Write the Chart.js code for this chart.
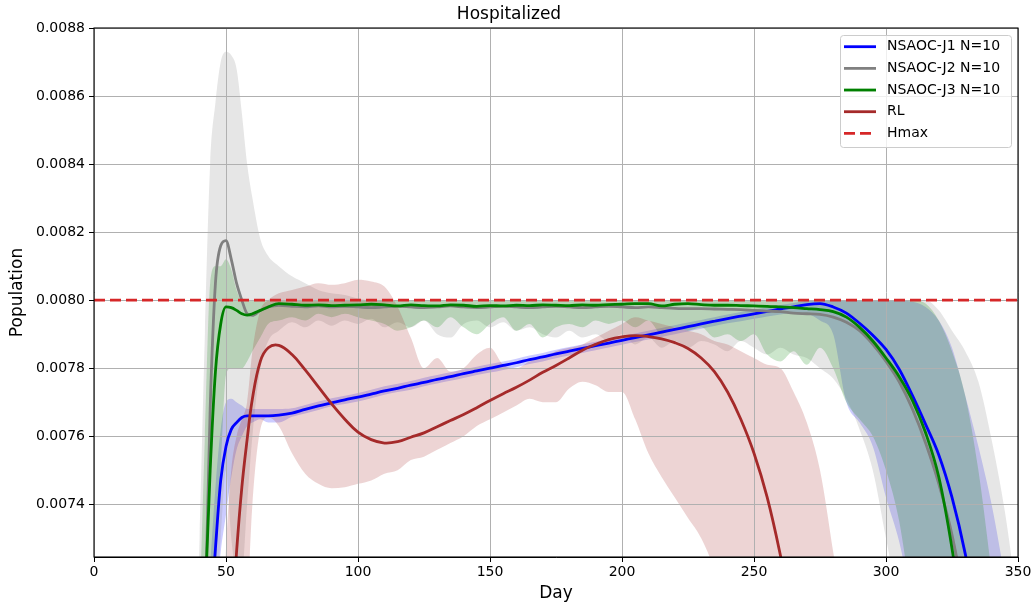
<!DOCTYPE html>
<html><head><meta charset="utf-8">
<script src="https://cdn.jsdelivr.net/npm/chart.js@4.4.1/dist/chart.umd.min.js"></script>
<style>html,body{margin:0;padding:0;background:#fff;}canvas{display:block;}</style>
</head><body>
<canvas id="c" width="1036" height="607"></canvas>
<script>
// ---- data ----
const days = [30,38,40,42,44,46,48,50,52,54,56,58,60,63,66,70,
  75,80,85,90,95,100,105,110,115,120,125,130,135,140,145,150,
  155,160,165,170,175,180,185,190,195,200,205,210,215,220,225,230,
  235,240,245,250,255,260,265,270,275,280,285,290,295,300,305,310,
  315,320,325,330,335,340,345,350];

const j1 = [0.0060,0.0064,0.0066,0.0068,0.00705,0.00727,0.00747,0.00757,0.00762,0.00764,0.007655,0.00766,0.00766,0.00766,0.00766,0.007662,
  0.007668,0.007679,0.007689,0.007698,0.007707,0.007715,0.007724,0.007733,0.007741,0.00775,0.007758,0.007767,0.007775,0.007784,0.007792,0.0078,
  0.007808,0.007816,0.007825,0.007833,0.007842,0.00785,0.007858,0.007866,0.007874,0.007882,0.00789,0.007898,0.007906,0.007914,0.007922,0.00793,
  0.007938,0.007946,0.007953,0.00796,0.007967,0.007974,0.00798,0.007987,0.00799,0.00798,0.007962,0.007932,0.007897,0.007855,0.007797,0.00772,
  0.007635,0.007545,0.00742,0.007255,0.00704,0.0068,0.0066,0.0064];
const j1Lo = [0.0060,0.0062,0.0064,0.0066,0.0069,0.0071,0.00726,0.00737,0.00748,0.00756,0.0076,0.00763,0.00764,0.00765,0.00764,0.00764,
  0.007657,0.007667,0.007677,0.007688,0.007695,0.007702,0.007712,0.007722,0.00773,0.007737,0.007747,0.007755,0.007763,0.007771,0.00778,0.007787,
  0.007795,0.007803,0.007812,0.00782,0.007829,0.007837,0.007845,0.007853,0.007861,0.007869,0.007877,0.007884,0.007892,0.0079,0.007908,0.007916,
  0.007924,0.007932,0.007938,0.007945,0.007952,0.007958,0.007962,0.00796,0.00794,0.0079,0.0077,0.00764,0.00757,0.00742,0.00729,0.0071,
  0.0069,0.0067,0.0065,0.0063,0.0061,0.006,0.006,0.006];
const j1Hi = [0.0060,0.0064,0.0066,0.0070,0.00722,0.00745,0.00762,0.0077,0.00771,0.0077,0.00769,0.00768,0.00768,0.00768,0.00768,0.00768,
  0.007682,0.007692,0.007702,0.007712,0.007719,0.007727,0.007737,0.007747,0.007754,0.007762,0.007772,0.00778,0.007788,0.007796,0.007804,0.007812,
  0.00782,0.007828,0.007837,0.007845,0.007854,0.007862,0.00787,0.007878,0.007886,0.007894,0.007902,0.00791,0.007918,0.007926,0.007934,0.007942,
  0.00795,0.007958,0.007965,0.007972,0.007979,0.007986,0.007992,0.007998,0.008,0.008,0.008,0.008,0.008,0.008,0.008,0.007995,
  0.00798,0.00794,0.00786,0.00772,0.00757,0.0074,0.00718,0.0069];

const j2 = [0.0060,0.0064,0.0067,0.00705,0.00768,0.00805,0.00816,0.008175,0.00812,0.00805,0.0080,0.00796,0.007955,0.00797,0.00798,0.007985,
  0.007982,0.00798,0.007983,0.00798,0.007982,0.00798,0.007978,0.00798,0.007982,0.00798,0.007978,0.00798,0.007983,0.00798,0.007978,0.00798,
  0.007982,0.00798,0.007978,0.00798,0.007982,0.00798,0.007978,0.00798,0.007982,0.00798,0.007978,0.00798,0.007978,0.007976,0.007975,0.007975,
  0.007974,0.007973,0.007972,0.00797,0.007968,0.007966,0.007962,0.00796,0.007958,0.00795,0.007935,0.00791,0.00787,0.00782,0.00776,0.00768,
  0.00758,0.00746,0.00731,0.0071,0.0068,0.0065,0.0062,0.006];
const j2Lo = [0.0060,0.0062,0.0064,0.0066,0.0069,0.0071,0.0073,0.0075,0.0073,0.0072,0.0072,0.0074,0.0076,0.0078,0.00788,0.00791,
  0.007935,0.00792,0.00794,0.007925,0.00794,0.00793,0.007945,0.00792,0.007935,0.00792,0.00794,0.0079,0.00789,0.00793,0.00794,0.00792,
  0.007935,0.00791,0.00792,0.0079,0.00789,0.00791,0.00789,0.0079,0.00788,0.0079,0.00787,0.00789,0.00786,0.00788,0.00786,0.00788,
  0.00787,0.00785,0.00788,0.00786,0.00784,0.00786,0.00784,0.00783,0.0078,0.00777,0.00771,0.00762,0.0075,0.0073,0.0071,0.0069,
  0.0067,0.0065,0.0063,0.0061,0.006,0.006,0.006,0.006];
const j2Hi = [0.0060,0.0068,0.0073,0.0079,0.0084,0.00858,0.0087,0.00873,0.00872,0.00868,0.00855,0.0084,0.0083,0.00818,0.00813,0.0081,
  0.00807,0.00805,0.00803,0.00802,0.008015,0.008005,0.008,0.008,0.008,0.008,0.008,0.008,0.008,0.008,0.008,0.008,
  0.008,0.008,0.008,0.008,0.008,0.008,0.008,0.008,0.008,0.008,0.008,0.008,0.008,0.008,0.008,0.008,
  0.008,0.008,0.008,0.008,0.008,0.008,0.008,0.008,0.008,0.008,0.008,0.008,0.008,0.008,0.008,0.008,
  0.008,0.00797,0.00791,0.00785,0.00776,0.00759,0.00738,0.0071];

const j3 = [0.0060,0.0064,0.0067,0.0071,0.0075,0.00779,0.00793,0.00798,0.007978,0.00797,0.00796,0.007956,0.00796,0.00797,0.00798,0.00799,
  0.007988,0.007985,0.007986,0.007984,0.007985,0.007986,0.007988,0.007986,0.007983,0.007986,0.007984,0.007983,0.007986,0.007985,0.007982,0.007984,
  0.007983,0.007985,0.007984,0.007986,0.007985,0.007984,0.007986,0.007985,0.007987,0.007988,0.00799,0.00799,0.007983,0.007988,0.00799,0.007987,
  0.007985,0.007985,0.007984,0.007983,0.007982,0.00798,0.007978,0.007975,0.007972,0.007966,0.00795,0.00792,0.00788,0.00783,0.007775,0.007705,
  0.00761,0.00748,0.00727,0.0070,0.0067,0.0064,0.0062,0.006];
const j3Lo = [0.0060,0.0063,0.0065,0.0068,0.0070,0.0072,0.0075,0.00778,0.0078,0.0078,0.0078,0.00782,0.00785,0.00789,0.00793,0.00794,
  0.00795,0.00794,0.00796,0.00795,0.00796,0.00795,0.00794,0.00793,0.00791,0.00792,0.00794,0.00792,0.00795,0.00792,0.0079,0.00793,
  0.00795,0.00791,0.00793,0.00789,0.00792,0.00793,0.00792,0.00794,0.00793,0.00794,0.00792,0.00794,0.0079,0.00792,0.00791,0.00792,
  0.00789,0.0079,0.00788,0.0079,0.00784,0.00782,0.00785,0.00781,0.00786,0.0078,0.0077,0.00765,0.0076,0.0075,0.00735,0.0071,
  0.0069,0.0067,0.0065,0.0063,0.0061,0.006,0.006,0.006];
const j3Hi = [0.0060,0.0067,0.0071,0.0076,0.00805,0.0081,0.0081,0.00812,0.00809,0.00803,0.008,0.008,0.008,0.008,0.008,0.008,
  0.008,0.008,0.008,0.008,0.008,0.008,0.008,0.008,0.008,0.008,0.008,0.008,0.008,0.008,0.008,0.008,
  0.008,0.008,0.008,0.008,0.008,0.008,0.008,0.008,0.008,0.008,0.008,0.008,0.008,0.008,0.008,0.008,
  0.008,0.008,0.008,0.008,0.008,0.008,0.008,0.008,0.008,0.008,0.008,0.008,0.008,0.008,0.008,0.008,
  0.00799,0.00794,0.00785,0.00772,0.0075,0.0072,0.0069,0.0066];

const rl = [0.0055,0.0058,0.0059,0.0060,0.0062,0.0064,0.0066,0.0068,0.00702,0.00726,0.00745,0.00759,0.00771,0.00782,0.00786,0.007867,
  0.00784,0.007795,0.007745,0.007695,0.00765,0.007612,0.00759,0.00758,0.007584,0.007597,0.00761,0.007628,0.007646,0.007664,0.007684,0.007705,
  0.007725,0.007744,0.007765,0.007788,0.007808,0.00783,0.007853,0.00787,0.007884,0.007892,0.007896,0.007893,0.007886,0.007875,0.007858,0.00783,
  0.00779,0.00773,0.00765,0.00755,0.00742,0.00725,0.00705,0.0068,0.0065,0.0062,0.006,0.006,0.006,0.006,0.006,0.006,
  0.006,0.006,0.006,0.006,0.006,0.006,0.006,0.006];
const rlLo = [0.0055,0.0055,0.0055,0.0055,0.0055,0.0056,0.0058,0.006,0.0066,0.0068,0.007,0.0071,0.0074,0.00762,0.007655,0.00763,
  0.00755,0.00749,0.00746,0.007447,0.00745,0.00746,0.00747,0.00749,0.0075,0.00753,0.00754,0.00756,0.00758,0.0076,0.00763,0.00765,
  0.00767,0.00769,0.00771,0.0077,0.0077,0.00774,0.00776,0.00775,0.00773,0.00773,0.00765,0.00755,0.00748,0.00742,0.00736,0.0073,
  0.0072,0.007,0.0068,0.0066,0.0064,0.0062,0.006,0.006,0.006,0.006,0.006,0.006,0.006,0.006,0.006,0.006,
  0.006,0.006,0.006,0.006,0.006,0.006,0.006,0.006];
const rlHi = [0.0055,0.0056,0.0057,0.0058,0.006,0.0062,0.0069,0.00727,0.0075,0.0076,0.00765,0.0077,0.00785,0.00797,0.008,0.00802,
  0.00803,0.00804,0.00805,0.008045,0.00805,0.00806,0.008055,0.00804,0.00798,0.00789,0.0078,0.00783,0.00779,0.0078,0.00784,0.00786,
  0.00781,0.0078,0.00782,0.00783,0.00785,0.00786,0.00787,0.00789,0.00791,0.00793,0.00795,0.00794,0.00793,0.00792,0.00791,0.0079,
  0.00788,0.00787,0.00785,0.00783,0.00781,0.0078,0.00773,0.00764,0.0075,0.00726,0.007,0.0068,0.0066,0.0064,0.0062,0.006,
  0.006,0.006,0.006,0.006,0.006,0.006,0.006,0.006];

const hmax = 0.008;
const xTicks = [0,50,100,150,200,250,300,350];
const yTicks = [0.0074,0.0076,0.0078,0.0080,0.0082,0.0084,0.0086,0.0088];
const xMin = 0, xMax = 350, yMin = 0.007245, yMax = 0.0088;
const seriesNames = ['NSAOC-J1 N=10','NSAOC-J2 N=10','NSAOC-J3 N=10','RL','Hmax'];

// ---- helpers ----
const FONT = 'DejaVu Sans';
const pts = a => days.map((d,i) => ({x:d, y:a[i]}));
const LW = 2.8;
function line(label, arr, color, legendIdx, smooth) {
  const ds = {label, data: pts(arr), borderColor: color, borderWidth: LW, pointRadius: 0,
    fill: false, clip: 0, legendIdx};
  if (smooth) { ds.tension = 0.4; } else { ds.cubicInterpolationMode = 'monotone'; }
  return ds;
}
function band(arr, color, fill) {
  return {label: '', data: pts(arr), borderWidth: 0, borderColor: 'rgba(0,0,0,0)',
    backgroundColor: color, pointRadius: 0, fill: fill, cubicInterpolationMode: 'monotone', clip: 0};
}
const C_BLUE = '#0000ff', C_GRAY = '#808080', C_GREEN = '#008000', C_RED = '#a52a2a', C_HMAX = '#d62728';

const datasets = [
  {label: seriesNames[4], data: [{x:xMin,y:hmax},{x:xMax,y:hmax}], borderColor: C_HMAX, borderWidth: LW,
   borderDash: [11,5], pointRadius: 0, fill: false, clip: 0, legendIdx: 4},
  line(seriesNames[3], rl, C_RED, 3, true),
  line(seriesNames[2], j3, C_GREEN, 2),
  line(seriesNames[1], j2, C_GRAY, 1),
  line(seriesNames[0], j1, C_BLUE, 0),   // index 4: first line drawn
  band(rlLo, 'rgba(0,0,0,0)', false),
  band(rlHi, 'rgba(165,42,42,0.2)', '-1'),
  band(j3Lo, 'rgba(0,0,0,0)', false),
  band(j3Hi, 'rgba(0,128,0,0.2)', '-1'),
  band(j2Lo, 'rgba(0,0,0,0)', false),
  band(j2Hi, 'rgba(128,128,128,0.2)', '-1'),
  band(j1Lo, 'rgba(0,0,0,0)', false),
  band(j1Hi, 'rgba(0,0,255,0.2)', '-1'),
];

const decor = {
  id: 'decor',
  beforeDatasetDraw(chart, args) {
    if (args.index !== 4) return;
    const {ctx, chartArea: a, scales: {x, y}} = chart;
    ctx.save();
    ctx.strokeStyle = '#b0b0b0';
    ctx.lineWidth = 1;
    ctx.beginPath();
    xTicks.forEach(v => { const p = Math.round(x.getPixelForValue(v)) + 0.5; ctx.moveTo(p, a.top); ctx.lineTo(p, a.bottom); });
    yTicks.forEach(v => { const p = Math.round(y.getPixelForValue(v)) + 0.5; ctx.moveTo(a.left, p); ctx.lineTo(a.right, p); });
    ctx.stroke();
    ctx.restore();
  },
  afterDatasetsDraw(chart) {
    const {ctx, chartArea: a} = chart;
    ctx.save();
    ctx.strokeStyle = '#000';
    ctx.lineWidth = 1.1;
    ctx.strokeRect(a.left, a.top, a.right - a.left, a.bottom - a.top);
    ctx.restore();
  },
  afterDraw(chart) {
    const {ctx, chartArea: a} = chart;
    const items = chart.data.datasets.filter(d => d.legendIdx !== undefined).sort((p, q) => p.legendIdx - q.legendIdx);
    const w = 171, h = 112;
    const x0 = a.right - 7 - w, y0 = a.top + 7;
    ctx.save();
    ctx.beginPath();
    ctx.roundRect(x0 + 0.5, y0 + 0.5, w, h, 3);
    ctx.fillStyle = 'rgba(255,255,255,0.8)';
    ctx.fill();
    ctx.strokeStyle = '#cccccc';
    ctx.lineWidth = 1;
    ctx.stroke();
    ctx.font = '14px "' + FONT + '"';
    ctx.textBaseline = 'middle';
    ctx.textAlign = 'left';
    items.forEach((d, i) => {
      const yy = y0 + 11.7 + i * 21.67;
      ctx.beginPath();
      ctx.setLineDash(d.borderDash || []);
      ctx.strokeStyle = d.borderColor;
      ctx.lineWidth = LW;
      ctx.moveTo(x0 + 4, yy); ctx.lineTo(x0 + 36, yy);
      ctx.stroke();
      ctx.setLineDash([]);
      ctx.fillStyle = '#000';
      ctx.fillText(d.label, x0 + 47, yy);
    });
    ctx.restore();
  }
};

new Chart(document.getElementById('c'), {
  type: 'line',
  data: {datasets},
  options: {
    responsive: false, animation: false, devicePixelRatio: 1,
    events: [],
    layout: {padding: {left: 0, right: 18, top: 0, bottom: 0}},
    plugins: {
      legend: {display: false},
      tooltip: {enabled: false},
      title: {display: true, text: 'Hospitalized', color: '#000',
        font: {family: FONT, size: 17, weight: 'normal'}, padding: {top: 4, bottom: 3.6}}
    },
    scales: {
      x: {type: 'linear', min: xMin, max: xMax,
        afterBuildTicks: s => { s.ticks = xTicks.map(v => ({value: v})); },
        afterFit: s => { s.height = 50; },
        ticks: {color: '#000', font: {family: FONT, size: 14}, padding: 2, maxRotation: 0, autoSkip: false},
        grid: {drawOnChartArea: false, drawTicks: true, tickLength: 5, tickColor: '#000', tickWidth: 1},
        border: {display: true, color: '#000', width: 1},
        title: {display: true, text: 'Day', color: '#000', font: {family: FONT, size: 17}, padding: {top: 3, bottom: 3}}
      },
      y: {type: 'linear', min: yMin, max: yMax,
        afterBuildTicks: s => { s.ticks = yTicks.map(v => ({value: v})); },
        afterFit: s => { s.width = 94; },
        ticks: {color: '#000', font: {family: FONT, size: 14}, padding: 4, callback: v => Number(v).toFixed(4)},
        grid: {drawOnChartArea: false, drawTicks: true, tickLength: 5, tickColor: '#000', tickWidth: 1},
        border: {display: true, color: '#000', width: 1},
        title: {display: true, text: 'Population', color: '#000', font: {family: FONT, size: 17}, padding: {top: 7, bottom: 6}}
      }
    }
  },
  plugins: [decor]
});
</script>
</body></html>
